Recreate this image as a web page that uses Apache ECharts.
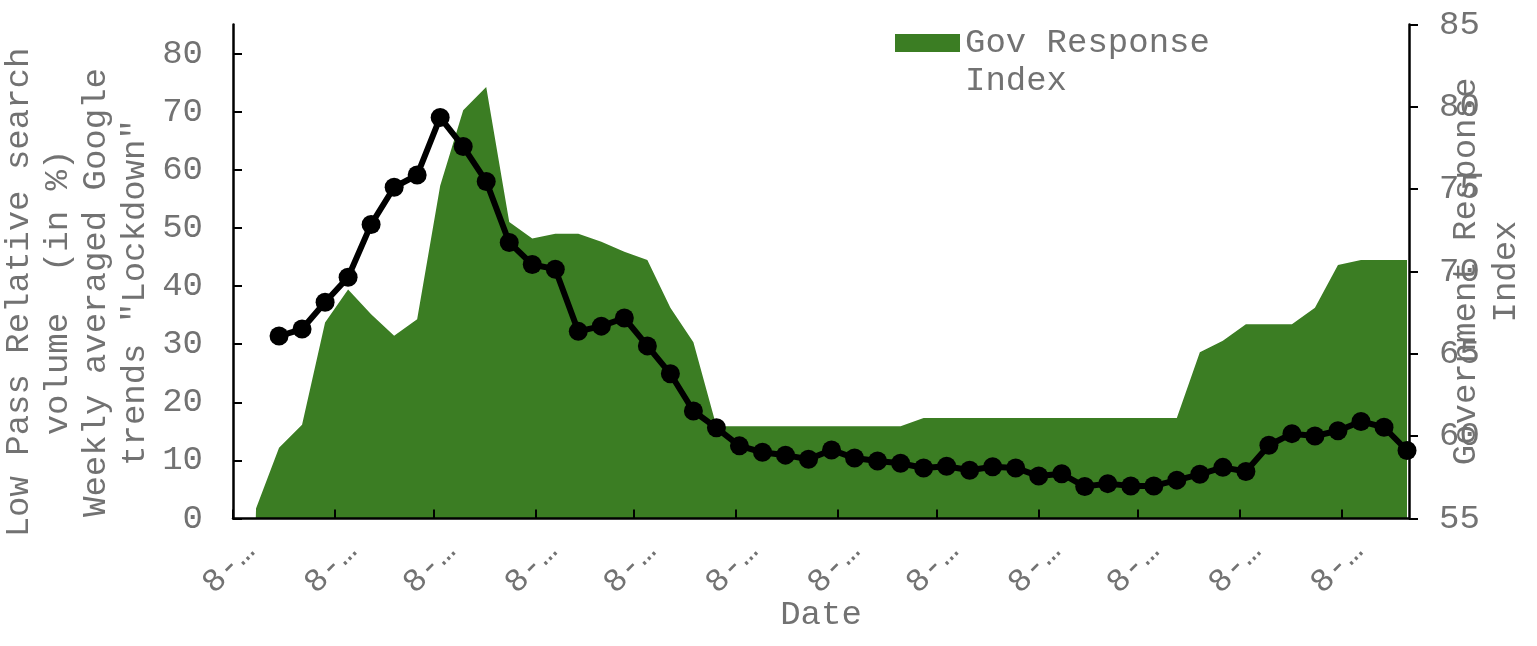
<!DOCTYPE html>
<html>
<head>
<meta charset="utf-8">
<script src="https://cdn.jsdelivr.net/npm/echarts@6/dist/echarts.min.js"></script>
<style>
  html, body { margin: 0; padding: 0; background: #ffffff; }
  #chart { width: 1537px; height: 646px; }
</style>
</head>
<body>
<div id="chart"></div>
<script>
// Weekly dates (x axis)
const weekDates = [
  '2020-03-08','2020-03-15','2020-03-22','2020-03-29','2020-04-05','2020-04-12','2020-04-19','2020-04-26',
  '2020-05-03','2020-05-10','2020-05-17','2020-05-24','2020-05-31','2020-06-07','2020-06-14','2020-06-21',
  '2020-06-28','2020-07-05','2020-07-12','2020-07-19','2020-07-26','2020-08-02','2020-08-09','2020-08-16',
  '2020-08-23','2020-08-30','2020-09-06','2020-09-13','2020-09-20','2020-09-27','2020-10-04','2020-10-11',
  '2020-10-18','2020-10-25','2020-11-01','2020-11-08','2020-11-15','2020-11-22','2020-11-29','2020-12-06',
  '2020-12-13','2020-12-20','2020-12-27','2021-01-03','2021-01-10','2021-01-17','2021-01-24','2021-01-31',
  '2021-02-07','2021-02-14','2021-02-21','2021-02-28'
];

// Government response index (right axis), one value per week
const govResponse = [
  0, 55.6, 59.3, 60.7, 66.9, 68.9, 67.4, 66.1, 67.1, 75.2,
  79.8, 81.2, 73.0, 72.0, 72.3, 72.3, 71.8, 71.2, 70.7, 67.8,
  65.7, 60.6, 60.6, 60.6, 60.6, 60.6, 60.6, 60.6, 60.6, 60.6,
  61.1, 61.1, 61.1, 61.1, 61.1, 61.1, 61.1, 61.1, 61.1, 61.1,
  61.1, 61.1, 65.1, 65.8, 66.8, 66.8, 66.8, 67.8, 70.4, 70.7,
  70.7, 70.7
];

// Weekly averaged Google trends "Lockdown" (left axis), starts at week 3
const searchStart = '2020-03-22';
const searchVolume = [
  31.4, 32.6, 37.2, 41.5, 50.6, 57.0, 59.1, 69.0, 64.0, 58.0,
  47.5, 43.7, 42.9, 32.2, 33.1, 34.5, 29.7, 24.9, 18.5, 15.6,
  12.5, 11.4, 10.9, 10.2, 11.8, 10.4, 9.9, 9.5, 8.7, 9.0,
  8.3, 8.9, 8.7, 7.3, 7.7, 5.5, 6.0, 5.6, 5.6, 6.6,
  7.6, 8.8, 8.1, 12.6, 14.6, 14.2, 15.1, 16.7, 15.7, 11.7
];

// Axis ticks
const xStart = '2020-03-08';
const xEnd = '2021-02-28';
const xTickDates = [
  '2020-03-08','2020-04-08','2020-05-08','2020-06-08','2020-07-08','2020-08-08',
  '2020-09-08','2020-10-08','2020-11-08','2020-12-08','2021-01-08','2021-02-08'
];
const xTickLabel = '8-\u2026';
const leftTicks = [0, 10, 20, 30, 40, 50, 60, 70, 80];

const GREEN = '#3b7d23';
const GRAY = '#727272';
const FONT = '"Liberation Mono", "DejaVu Sans Mono", monospace';

// day offset from the first date (the x axis is measured in days)
const dayOf = s => (Date.parse(s + 'T00:00:00Z') - Date.parse(xStart + 'T00:00:00Z')) / 86400000;
const govData = weekDates.map((d, i) => [dayOf(d), govResponse[i]]);
const startIdx = weekDates.indexOf(searchStart);
const searchData = searchVolume.map((v, i) => [dayOf(weekDates[startIdx + i]), v]);
const xTickDays = xTickDates.map(dayOf);

const chart = echarts.init(document.getElementById('chart'), null, { renderer: 'canvas' });

const axisLineStyle = { color: '#000', width: 2.5 };

chart.setOption({
  backgroundColor: '#ffffff',
  animation: false,
  grid: {
    left: 233, right: 128, top: 24.5, bottom: 127.5,
    containLabel: false, outerBoundsMode: 'none'
  },
  legend: {
    left: 895, top: -14,
    padding: 0,
    itemWidth: 65, itemHeight: 18,
    itemGap: 10,
    data: [{ name: 'Gov Response Index', icon: 'rect' }],
    formatter: () => '\nGov Response\nIndex',
    textStyle: {
      fontFamily: FONT, fontSize: 34, color: GRAY,
      lineHeight: 38
    }
  },
  xAxis: {
    type: 'value',
    min: dayOf(xStart),
    max: dayOf(xEnd) + 0.6,
    z: 3,
    name: 'Date',
    nameLocation: 'middle',
    nameGap: 79,
    nameMoveOverlap: false,
    nameTextStyle: { fontFamily: FONT, fontSize: 34, color: GRAY },
    axisLine: { show: true, onZero: false, lineStyle: axisLineStyle },
    axisTick: { show: true, inside: true, length: 9, lineStyle: { color: '#000', width: 2 }, customValues: xTickDays },
    axisLabel: {
      show: true, customValues: xTickDays,
      formatter: () => xTickLabel,
      rotate: 45, align: 'center', verticalAlign: 'middle', margin: 45,
      padding: [0, 11, 0, 0],
      fontFamily: FONT, fontSize: 33, color: GRAY
    },
    splitLine: { show: false }
  },
  yAxis: [
    {
      type: 'value', min: 0, max: 85, position: 'left', z: 3,
      name: 'Low Pass Relative search\nvolume  (in %)\nWeekly averaged Google\ntrends "Lockdown"',
      nameLocation: 'middle', nameRotate: 90, nameGap: 79,
      nameMoveOverlap: false,
      nameTextStyle: { fontFamily: FONT, fontSize: 34, color: GRAY, lineHeight: 38.5, padding: [0, 42, 0, 0] },
      axisLine: { show: true, onZero: false, lineStyle: axisLineStyle },
      axisTick: { show: true, inside: true, length: 9, lineStyle: { color: '#000', width: 2 }, customValues: leftTicks },
      axisLabel: { customValues: leftTicks, margin: 30, fontFamily: FONT, fontSize: 34, color: GRAY },
      splitLine: { show: false }
    },
    {
      type: 'value', min: 55, max: 85, interval: 5, position: 'right', z: 3,
      name: 'Government Response\nIndex',
      nameLocation: 'middle', nameRotate: 90, nameGap: 37,
      nameMoveOverlap: false,
      nameTextStyle: { fontFamily: FONT, fontSize: 34, color: GRAY, lineHeight: 40 },
      axisLine: { show: true, onZero: false, lineStyle: axisLineStyle },
      axisTick: { show: true, inside: false, length: 9, lineStyle: { color: '#000', width: 2 } },
      axisLabel: { margin: 30, fontFamily: FONT, fontSize: 34, color: GRAY },
      splitLine: { show: false }
    }
  ],
  series: [
    {
      name: 'Gov Response Index',
      type: 'line',
      yAxisIndex: 1,
      data: govData,
      showSymbol: false,
      symbol: 'none',
      z: 2,
      clip: true,
      itemStyle: { color: GREEN },
      lineStyle: { width: 0, color: GREEN },
      areaStyle: { color: GREEN, opacity: 1, origin: 'start' }
    },
    {
      name: 'Search volume',
      type: 'line',
      yAxisIndex: 0,
      data: searchData,
      symbol: 'circle',
      symbolSize: 19,
      z: 5,
      clip: false,
      itemStyle: { color: '#000' },
      lineStyle: { width: 6, color: '#000' }
    }
  ]
});
</script>
</body>
</html>
